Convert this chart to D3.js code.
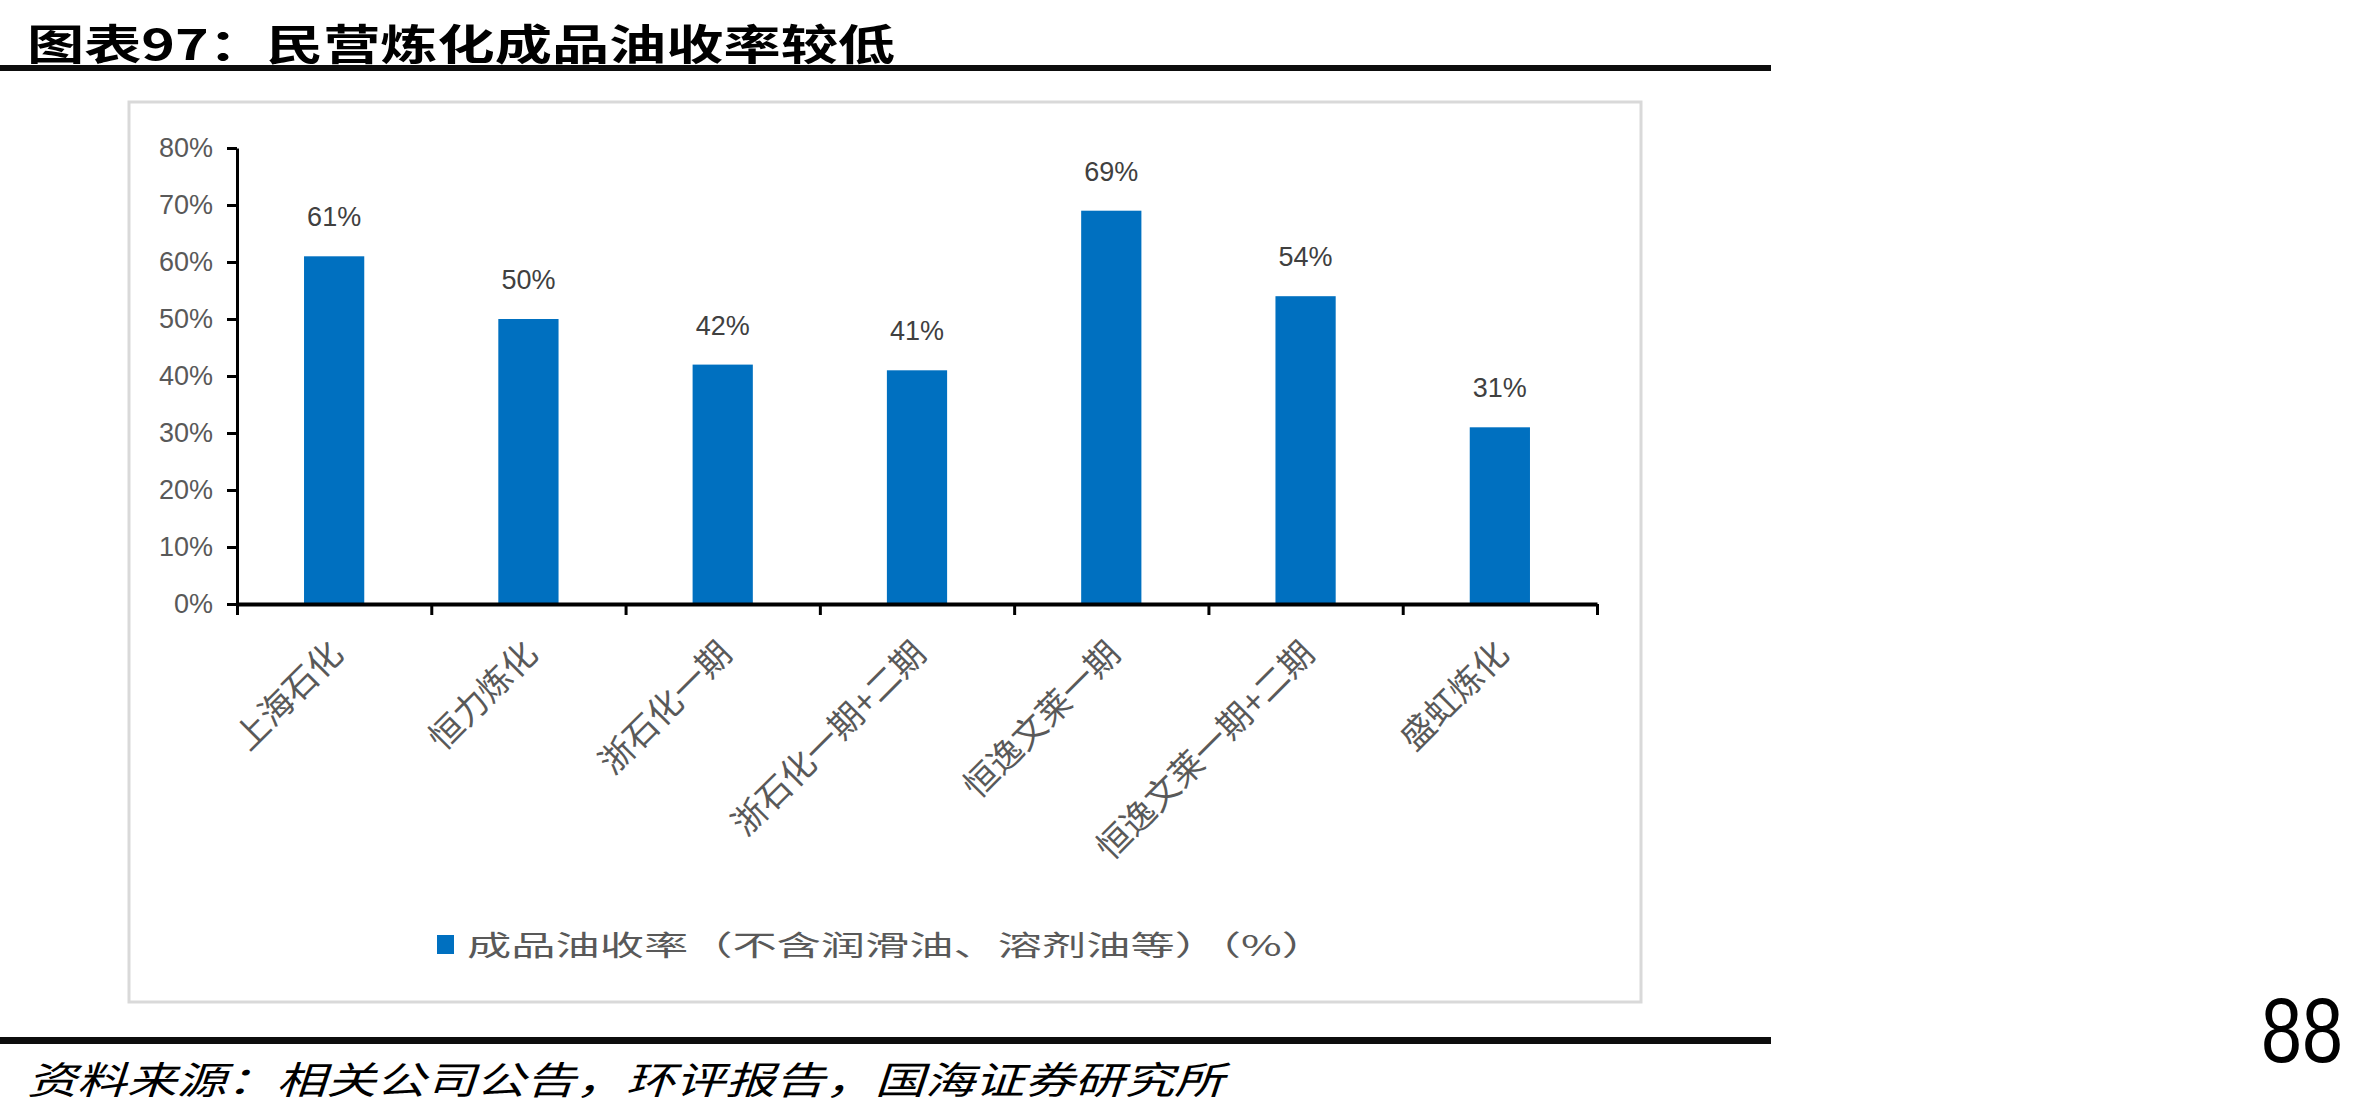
<!DOCTYPE html>
<html>
<head>
<meta charset="utf-8">
<script src="https://cdn.jsdelivr.net/npm/d3@7"></script>
<style>
  body { margin: 0; background: #fff; }
  svg text { font-family: "Noto Sans CJK SC", "Liberation Sans", sans-serif; }
  .num { font-family: "Liberation Sans Narrow", "Liberation Sans", Arial, sans-serif !important; }
</style>
</head>
<body>
<div id="chart"></div>
<script>
// data
var categories = ["上海石化", "恒力炼化", "浙石化一期", "浙石化一期+二期", "恒逸文莱一期", "恒逸文莱一期+二期", "盛虹炼化"];
var yieldValues = [0.61, 0.50, 0.42, 0.41, 0.69, 0.54, 0.31];
var yTicks = [0, 0.1, 0.2, 0.3, 0.4, 0.5, 0.6, 0.7, 0.8];
var seriesName = "成品油收率（不含润滑油、溶剂油等）（%）";
var titleText = "图表97：民营炼化成品油收率较低";
var sourceText = "资料来源：相关公司公告，环评报告，国海证券研究所";
var pageNo = "88";

var width = 2363, height = 1114;
var plot = { left: 237, right: 1597, top: 148, bottom: 604 };

var svg = d3.select("#chart").append("svg")
  .attr("width", width)
  .attr("height", height);

svg.append("rect").attr("width", width).attr("height", height).attr("fill", "#fff");

// title + rules
svg.append("text")
  .attr("x", 27).attr("y", 60)
  .attr("font-size", 42).attr("font-weight", "bold")
  .attr("textLength", 868).attr("lengthAdjust", "spacingAndGlyphs")
  .text(titleText);
svg.append("rect").attr("x", 0).attr("y", 65).attr("width", 1771).attr("height", 6).attr("fill", "#0d0d0d");

// chart frame
svg.append("rect")
  .attr("x", 129).attr("y", 102).attr("width", 1512).attr("height", 900)
  .attr("fill", "none").attr("stroke", "#d9d9d9").attr("stroke-width", 3);

var x = d3.scaleBand()
  .domain(categories)
  .range([plot.left, plot.right])
  .paddingInner(0.69)
  .paddingOuter(0.345);

var xEdge = d3.scaleLinear().domain([0, categories.length]).range([plot.left, plot.right]);

var y = d3.scaleLinear().domain([0, 0.8]).range([plot.bottom, plot.top]);

// bars
svg.selectAll(".bar")
  .data(yieldValues)
  .enter().append("rect")
  .attr("class", "bar")
  .attr("x", function (d, i) { return x(categories[i]); })
  .attr("width", x.bandwidth())
  .attr("y", function (d) { return y(d); })
  .attr("height", function (d) { return y(0) - y(d); })
  .attr("fill", "#0070C0");

// y axis
var yAxis = svg.append("g")
  .attr("transform", "translate(" + plot.left + ",0)")
  .call(d3.axisLeft(y).tickValues(yTicks).tickFormat(d3.format(".0%")).tickSize(10).tickSizeOuter(0).tickPadding(14));
yAxis.select(".domain").attr("stroke", "#000").attr("stroke-width", 3);
yAxis.selectAll(".tick line").attr("stroke", "#000").attr("stroke-width", 3);
yAxis.selectAll(".tick text")
  .attr("class", "num")
  .attr("font-size", 27).attr("fill", "#595959");

// x axis
var xAxis = svg.append("g")
  .attr("transform", "translate(0," + plot.bottom + ")")
  .call(d3.axisBottom(xEdge).ticks(categories.length).tickFormat("").tickSize(11).tickSizeOuter(0));
xAxis.select(".domain").attr("stroke", "#000").attr("stroke-width", 4);
xAxis.selectAll(".tick line").attr("stroke", "#000").attr("stroke-width", 3);

// category labels
svg.selectAll(".xlab")
  .data(categories)
  .enter().append("text")
  .attr("class", "xlab")
  .attr("transform", function (d) {
    return "translate(" + (x(d) + x.bandwidth() / 2 + 11) + "," + (plot.bottom + 52) + ") rotate(-45)";
  })
  .attr("text-anchor", "end")
  .attr("font-size", 34)
  .attr("fill", "#595959")
  .text(function (d) { return d; });

// data labels
svg.selectAll(".vlab")
  .data(yieldValues)
  .enter().append("text")
  .attr("class", "num")
  .attr("x", function (d, i) { return x(categories[i]) + x.bandwidth() / 2; })
  .attr("y", function (d) { return y(d) - 30; })
  .attr("text-anchor", "middle")
  .attr("font-size", 27)
  .attr("fill", "#404040")
  .text(function (d) { return d3.format(".0%")(d); });

// legend
svg.append("rect").attr("x", 437).attr("y", 935).attr("width", 17).attr("height", 19).attr("fill", "#0070C0");
svg.append("text")
  .attr("x", 467).attr("y", 956)
  .attr("font-size", 28).attr("fill", "#595959")
  .attr("textLength", 859).attr("lengthAdjust", "spacingAndGlyphs")
  .text(seriesName);

// source + bottom rule
svg.append("rect").attr("x", 0).attr("y", 1037).attr("width", 1771).attr("height", 7).attr("fill", "#0d0d0d");
svg.append("text")
  .attr("x", 27).attr("y", 1094)
  .attr("font-size", 38).attr("font-style", "italic")
  .attr("textLength", 1197).attr("lengthAdjust", "spacingAndGlyphs")
  .text(sourceText);

svg.append("text")
  .attr("class", "num")
  .attr("x", 2261).attr("y", 1062)
  .attr("font-size", 90)
  .attr("textLength", 82).attr("lengthAdjust", "spacingAndGlyphs")
  .attr("fill", "#000")
  .text(pageNo);
</script>
</body>
</html>
